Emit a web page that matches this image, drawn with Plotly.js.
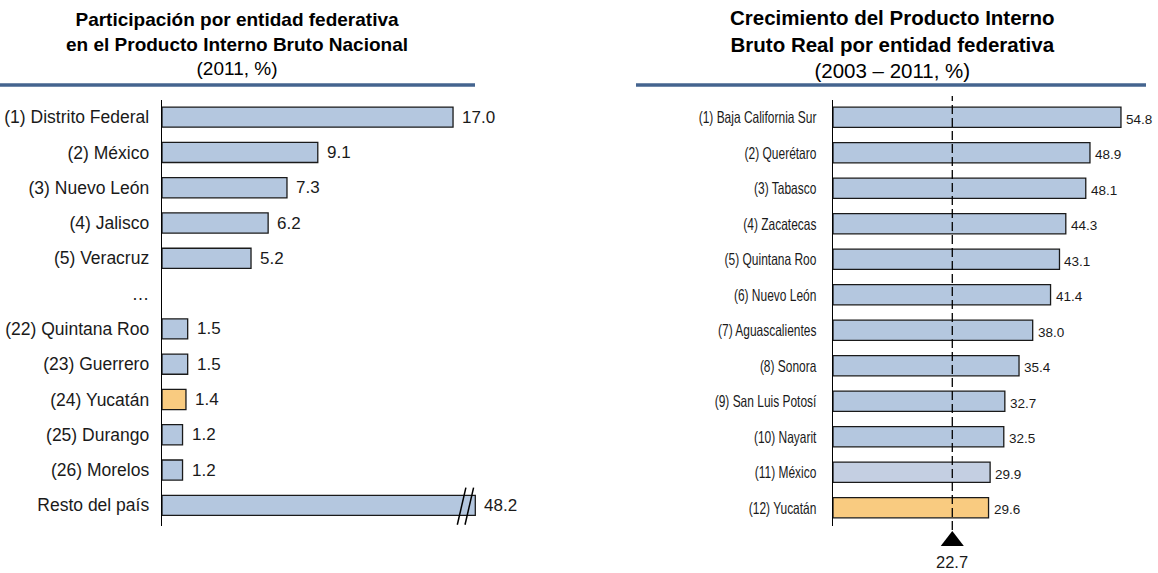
<!DOCTYPE html>
<html><head><meta charset="utf-8">
<script src="https://cdn.plot.ly/plotly-3.0.1.min.js"></script>
<style>body{margin:0;background:#fff}#c{width:1158px;height:573px}</style>
</head><body><div id="c"></div>
<script>
// Left panel: share of national GDP, 2011 (%)
const leftCats = ["(1) Distrito Federal","(2) México","(3) Nuevo León","(4) Jalisco","(5) Veracruz","…","(22) Quintana Roo","(23) Guerrero","(24) Yucatán","(25) Durango","(26) Morelos","Resto del país"];
const leftVals = [17.0, 9.1, 7.3, 6.2, 5.2, null, 1.5, 1.5, 1.4, 1.2, 1.2, 48.2];
const leftBreakCap = 18.3; // axis break: bars above this are cut

// Right panel: real GDP growth 2003-2011 (%)
const rightCats = ["(1) Baja California Sur","(2) Querétaro","(3) Tabasco","(4) Zacatecas","(5) Quintana Roo","(6) Nuevo León","(7) Aguascalientes","(8) Sonora","(9) San Luis Potosí","(10) Nayarit","(11) México","(12) Yucatán"];
const rightVals = [54.8, 48.9, 48.1, 44.3, 43.1, 41.4, 38.0, 35.4, 32.7, 32.5, 29.9, 29.6];
const nationalGrowth = 22.7;

const BLUE = "#b4c7df", ORANGE = "#f9cb80", GREY_BLUE = "#c4cfe2", EDGE = "#1a1a1a";
const W = 1158, H = 573;
const F = "Liberation Sans, Arial, sans-serif";

const leftColors = leftCats.map(c => c.includes("Yucatán") ? ORANGE : BLUE);
const rightColors = rightCats.map(c => c.includes("Yucatán") ? ORANGE : (c.includes("México") ? GREY_BLUE : BLUE));
const leftShown = leftVals.map(v => v == null ? null : Math.min(v, leftBreakCap));

const traces = [
  {type:"bar", orientation:"h", x:leftShown, y:leftCats, xaxis:"x", yaxis:"y",
   marker:{color:leftColors, line:{color:EDGE, width:1.3}}, hoverinfo:"skip"},
  {type:"bar", orientation:"h", x:rightVals, y:rightCats, xaxis:"x2", yaxis:"y2",
   marker:{color:rightColors, line:{color:EDGE, width:1.3}}, hoverinfo:"skip"},
  {type:"scatter", mode:"markers", x:[nationalGrowth], y:[0], xaxis:"x2", yaxis:"y3",
   marker:{symbol:"triangle-up", size:20, color:"#000"}, hoverinfo:"skip"}
];

// geometry
const rowPx = 35.5, topPx = 99.5, nRows = 12;
const botPx = topPx + rowPx*nRows;
const yDom = [1 - botPx/H, 1 - topPx/H];
const lx0 = 162, lScale = 17.12, lMax = 20;
const rx0 = 833, rScale = 5.255, rMax = 60;

const annotations = [];
leftVals.forEach((v,i) => {
  if (v == null) return;
  annotations.push({x:leftShown[i], y:leftCats[i], xref:"x", yref:"y", text:v.toFixed(1),
    showarrow:false, xanchor:"left", yanchor:"middle", xshift:7, font:{family:F, size:17, color:"#1a1a1a"}});
});
rightVals.forEach((v,i) => {
  annotations.push({x:v, y:rightCats[i], xref:"x2", yref:"y2", text:v.toFixed(1),
    showarrow:false, xanchor:"left", yanchor:"middle", xshift:3, yshift:-2, font:{family:F, size:13.5, color:"#1a1a1a"}});
});
annotations.push({x:nationalGrowth, y:1 - 562/H, xref:"x2", yref:"paper", text:nationalGrowth.toFixed(1),
  showarrow:false, xanchor:"center", yanchor:"middle", font:{family:F, size:16.5, color:"#1a1a1a"}});
// titles
annotations.push({x:237/W, y:1 - 44/H, xref:"paper", yref:"paper", showarrow:false, align:"center",
  xanchor:"center", yanchor:"middle",
  text:"<b>Participación por entidad federativa</b><br><b>en el Producto Interno Bruto Nacional</b><br>(2011, %)",
  font:{family:F, size:19, color:"#000"}});
annotations.push({x:892/W, y:1 - 44/H, xref:"paper", yref:"paper", showarrow:false, align:"center",
  xanchor:"center", yanchor:"middle",
  text:"<b>Crecimiento del Producto Interno</b><br><b>Bruto Real por entidad federativa</b><br>(2003 – 2011, %)",
  font:{family:F, size:20.5, color:"#000"}});

const restoIdx = leftCats.length - 1;
const shapes = [
  {type:"line", xref:"paper", yref:"paper", x0:0, x1:475/W, y0:1-85/H, y1:1-85/H, line:{color:"#44648f", width:3.5}},
  {type:"line", xref:"paper", yref:"paper", x0:636/W, x1:1146/W, y0:1-85/H, y1:1-85/H, line:{color:"#44648f", width:3.5}},
  // axis break marks on the last left bar
  {type:"line", xref:"x", yref:"y", x0:leftBreakCap-1.05, x1:leftBreakCap-0.55, y0:restoIdx+0.55, y1:restoIdx-0.5, line:{color:"#000", width:1.5}},
  {type:"line", xref:"x", yref:"y", x0:leftBreakCap-0.6, x1:leftBreakCap-0.1, y0:restoIdx+0.55, y1:restoIdx-0.5, line:{color:"#000", width:1.5}},
  // national growth reference line
  {type:"line", xref:"x2", yref:"paper", x0:nationalGrowth, x1:nationalGrowth, y0:1-530/H, y1:1-96/H,
   line:{color:"#000", width:1.3, dash:"9px,4px"}, layer:"above"}
];

const yCommon = {type:"category", autorange:"reversed", showline:true, linecolor:"#000", linewidth:1.3,
  showgrid:false, zeroline:false, ticks:"", fixedrange:true};

const layout = {
  width:W, height:H, margin:{l:0,r:0,t:0,b:0}, paper_bgcolor:"#fff", plot_bgcolor:"rgba(0,0,0,0)",
  showlegend:false, bargap:0.43,
  xaxis:{domain:[lx0/W, (lx0+lMax*lScale)/W], range:[0,lMax], visible:false, fixedrange:true},
  xaxis2:{domain:[rx0/W, (rx0+rMax*rScale)/W], range:[0,rMax], visible:false, fixedrange:true},
  yaxis:Object.assign({}, yCommon, {domain:yDom, anchor:"x", ticklabelstandoff:8,
    tickfont:{family:F, size:17.5, color:"#1a1a1a"}}),
  yaxis2:Object.assign({}, yCommon, {domain:yDom, anchor:"x2", ticklabelstandoff:12,
    tickfont:{family:F, size:16.5, color:"#1a1a1a"}}),
  yaxis3:{domain:[1-552/H, 1-530/H], range:[-1,1], visible:false, anchor:"x2", fixedrange:true},
  annotations, shapes
};
Plotly.newPlot("c", traces, layout, {displayModeBar:false, staticPlot:true}).then(gd => {
  // the reference's right-hand labels are set in a condensed face: squeeze them horizontally
  gd.querySelectorAll(".y2tick text").forEach(t => {
    const len = t.getComputedTextLength();
    t.setAttribute("textLength", (len * 0.725).toFixed(1));
    t.setAttribute("lengthAdjust", "spacingAndGlyphs");
  });
});
</script></body></html>
